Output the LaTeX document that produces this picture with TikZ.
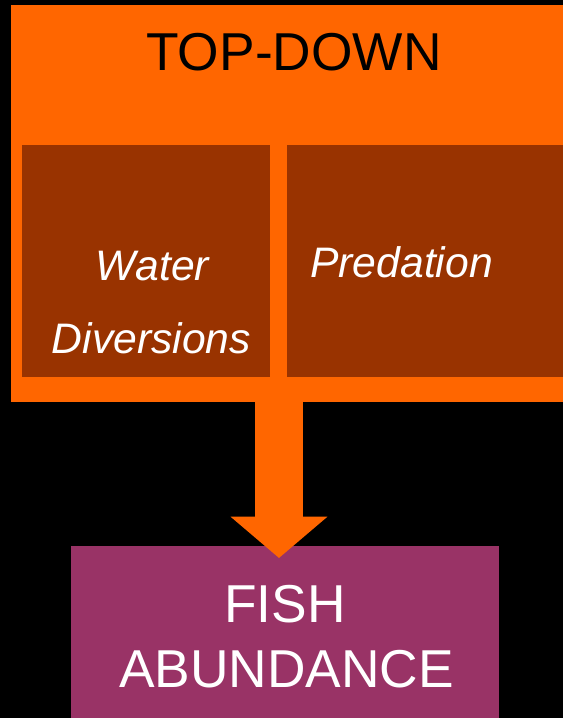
\documentclass[tikz,border=0pt]{standalone}
\usepackage{fontspec}
\setmainfont{Liberation Sans}
\usetikzlibrary{arrows.meta}

\definecolor{toporange}{HTML}{FF6600}
\definecolor{causebrown}{HTML}{993300}
\definecolor{fishpurple}{HTML}{993366}

\tikzset{
    panel/.style={rectangle, inner sep=0pt, outer sep=0pt},
    heading/.style={anchor=base, font=\fontsize{40}{40}\selectfont},
    cause/.style={anchor=base, text=white, font=\fontsize{32}{32}\selectfont\itshape}
}

\begin{document}
\begin{tikzpicture}[x=0.75pt, y=-0.75pt]
    \fill[black] (0,0) rectangle (563,718);
    \useasboundingbox (0,0) rectangle (563,718);

    % top-down block
    \node[panel, fill=toporange, minimum width=414pt, minimum height=297.75pt] (topdown) at (287,203.5) {};
    \node[heading] (title) at (294,70) {TOP-DOWN};

    \node[panel, fill=causebrown, minimum width=186pt, minimum height=174pt] (water) at (146,261) {};
    \node[cause] (wline1) at (152.5,280) {Water};
    \node[cause] (wline2) at (151.5,353) {Diversions};

    \node[panel, fill=causebrown, minimum width=207pt, minimum height=174pt] (pred) at (425,261) {};
    \node[cause] (pline) at (401.5,277) {Predation};

    % fish
    \node[panel, fill=fishpurple, minimum width=321pt, minimum height=129pt] (fish) at (285,632) {};
    \node[heading, text=white] (fline1) at (285,622) {FISH};
    \node[heading, text=white] (fline2) at (286.5,687) {ABUNDANCE};

    \draw[toporange, line width=36pt, -{Triangle[width=71pt, length=31pt]}]
        ([xshift=-6pt]topdown.south) -- ([xshift=-4.5pt, yshift=-9pt]fish.north);
\end{tikzpicture}
\end{document}
